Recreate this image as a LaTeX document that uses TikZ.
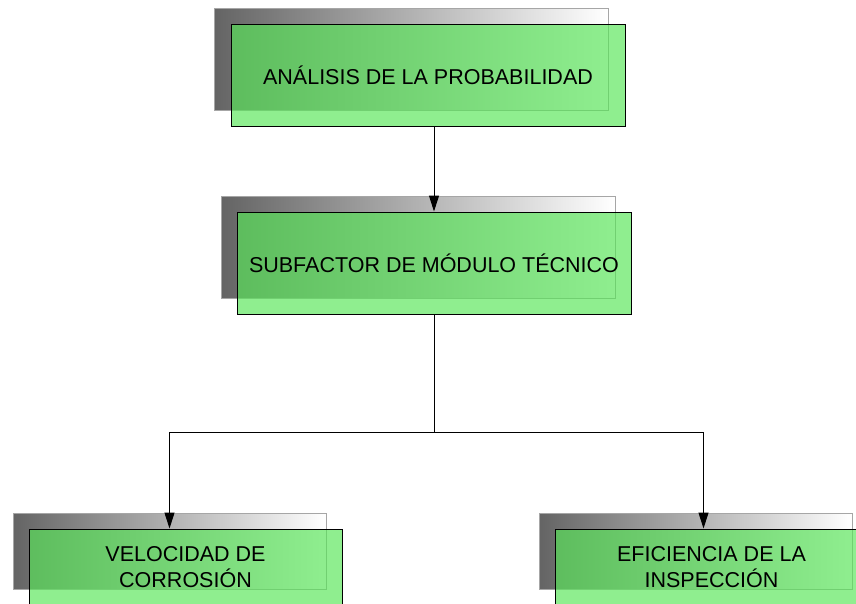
\documentclass[tikz,border=0pt]{standalone}
\usepackage{fontspec}
\setmainfont{Liberation Sans}
\usetikzlibrary{arrows.meta}
\definecolor{boxgreen}{RGB}{88,230,88}
\definecolor{shadowgray}{RGB}{100,100,100}
\begin{document}
\begin{tikzpicture}[x=1pt,y=-1pt,line width=1pt,>={Triangle[length=16pt,width=10pt]},
  shadow node/.style={rectangle,draw=gray!70,left color=shadowgray,right color=white,inner sep=0pt},
  main node/.style={rectangle,draw=black,fill=boxgreen,fill opacity=0.67,text opacity=1,
    inner sep=0pt,align=center,font=\fontsize{21.5}{26}\selectfont},
  wide/.style={minimum width=394pt,minimum height=102pt},
  narrow/.style={minimum width=313pt,minimum height=76pt}]
  \useasboundingbox (0,0) rectangle (856,603);

  \node[shadow node,wide] (probsh) at (411,59) {};
  \node[main node,wide] (prob) at (428,75) {ANÁLISIS DE LA PROBABILIDAD};
  \node[shadow node,wide] (subsh) at (418,247) {};
  \node[main node,wide] (sub) at (434,263) {SUBFACTOR DE MÓDULO TÉCNICO};
  \node[shadow node,narrow] (velsh) at (169.5,551) {};
  \node[main node,narrow] (vel) at (185.5,567) {VELOCIDAD DE\\CORROSIÓN};
  \node[shadow node,narrow] (inspsh) at (695.5,551) {};
  \node[main node,narrow] (insp) at (711.5,567) {EFICIENCIA DE LA\\INSPECCIÓN};

  \coordinate (split) at (434,432);
  \draw[->] (prob.south -| sub.north) -- (sub.north);
  \draw (sub.south) -- (split);
  \draw[->] (split) -| (velsh.north |- vel.north);
  \draw[->] (split) -| ([xshift=-8pt]insp.north);
\end{tikzpicture}
\end{document}
